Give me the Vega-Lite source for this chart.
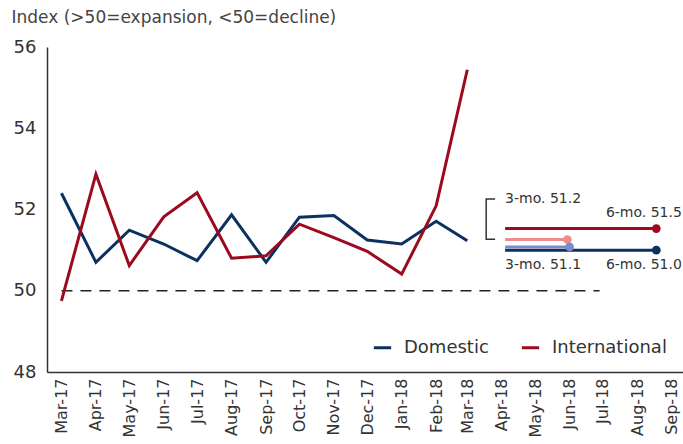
{
  "$schema": "https://vega.github.io/schema/vega-lite/v6.json",
  "width": 636,
  "height": 325,
  "autosize": "none",
  "padding": {"left": 47, "top": 47, "right": 0, "bottom": 72},
  "config": {
    "view": {"stroke": null},
    "font": "DejaVu Sans",
    "axis": {"domainColor": "#333333", "domainWidth": 1.5, "ticks": false, "grid": false, "labelColor": "#333333", "labelFont": "DejaVu Sans"}
  },
  "datasets": {
    "series": [
      {"month": "2017-03-01", "series": "Domestic", "value": 52.40},
      {"month": "2017-04-01", "series": "Domestic", "value": 50.70},
      {"month": "2017-05-01", "series": "Domestic", "value": 51.49},
      {"month": "2017-06-01", "series": "Domestic", "value": 51.15},
      {"month": "2017-07-01", "series": "Domestic", "value": 50.74},
      {"month": "2017-08-01", "series": "Domestic", "value": 51.87},
      {"month": "2017-09-01", "series": "Domestic", "value": 50.70},
      {"month": "2017-10-01", "series": "Domestic", "value": 51.81},
      {"month": "2017-11-01", "series": "Domestic", "value": 51.85},
      {"month": "2017-12-01", "series": "Domestic", "value": 51.25},
      {"month": "2018-01-01", "series": "Domestic", "value": 51.15},
      {"month": "2018-02-01", "series": "Domestic", "value": 51.71},
      {"month": "2018-03-01", "series": "Domestic", "value": 51.23},
      {"month": "2017-03-01", "series": "International", "value": 49.75},
      {"month": "2017-04-01", "series": "International", "value": 52.87},
      {"month": "2017-05-01", "series": "International", "value": 50.62},
      {"month": "2017-06-01", "series": "International", "value": 51.82},
      {"month": "2017-07-01", "series": "International", "value": 52.41},
      {"month": "2017-08-01", "series": "International", "value": 50.80},
      {"month": "2017-09-01", "series": "International", "value": 50.86},
      {"month": "2017-10-01", "series": "International", "value": 51.64},
      {"month": "2017-11-01", "series": "International", "value": 51.31},
      {"month": "2017-12-01", "series": "International", "value": 50.97},
      {"month": "2018-01-01", "series": "International", "value": 50.41},
      {"month": "2018-02-01", "series": "International", "value": 52.09},
      {"month": "2018-03-01", "series": "International", "value": 55.44}
    ],
    "baseline": [{"start": "2017-03-01", "end": "2018-06-28", "value": 50}],
    "averages": [
      {"avg": "International 6-mo", "start": "2018-04-04", "end": "2018-08-18", "value": 51.53},
      {"avg": "International 3-mo", "start": "2018-04-04", "end": "2018-05-30", "value": 51.26},
      {"avg": "Domestic 6-mo", "start": "2018-04-04", "end": "2018-08-18", "value": 51.0},
      {"avg": "Domestic 3-mo", "start": "2018-04-04", "end": "2018-06-01", "value": 51.08}
    ],
    "bracket": [
      {"order": 1, "date": "2018-03-26", "value": 52.26},
      {"order": 2, "date": "2018-03-18", "value": 52.26},
      {"order": 3, "date": "2018-03-18", "value": 51.27},
      {"order": 4, "date": "2018-03-26", "value": 51.27}
    ],
    "labelsLeft": [
      {"text": "3-mo. 51.2", "date": "2018-04-04", "value": 52.26},
      {"text": "3-mo. 51.1", "date": "2018-04-04", "value": 50.63}
    ],
    "labelsRight": [
      {"text": "6-mo. 51.5", "date": "2018-09-10", "value": 51.91},
      {"text": "6-mo. 51.0", "date": "2018-09-10", "value": 50.63}
    ]
  },
  "layer": [
    {
      "data": {"name": "baseline"},
      "mark": {"type": "rule", "color": "#222222", "strokeWidth": 1.3, "strokeDash": [11, 8]},
      "encoding": {
        "x": {"field": "start", "type": "temporal"},
        "x2": {"field": "end"},
        "y": {"field": "value", "type": "quantitative"}
      }
    },
    {
      "data": {"name": "series"},
      "mark": {"type": "line", "strokeWidth": 3},
      "encoding": {
        "x": {
          "field": "month", "type": "temporal",
          "scale": {"domain": ["2017-02-16", "2018-09-11"]},
          "axis": {"title": null, "format": "%b-%y", "labelAngle": -90, "labelAlign": "right", "labelBaseline": "middle", "labelFontSize": 16, "labelPadding": 6, "tickCount": {"interval": "month", "step": 1}, "labelOverlap": false, "labelFlush": false}
        },
        "y": {
          "field": "value", "type": "quantitative",
          "scale": {"domain": [48, 56], "nice": false, "zero": false},
          "axis": {"values": [48, 50, 52, 54, 56], "labelFontSize": 18, "labelPadding": 11, "title": "Index (>50=expansion, <50=decline)", "titleAngle": 0, "titleAlign": "left", "titleBaseline": "middle", "titleX": -36, "titleY": -30, "titleFontSize": 17, "titleFontWeight": "normal", "titleColor": "#444444"}
        },
        "color": {
          "field": "series", "type": "nominal",
          "scale": {"domain": ["Domestic", "International"], "range": ["#0c3161", "#9b0a1e"]},
          "legend": {"title": null, "orient": "none", "legendX": 325, "legendY": 290, "direction": "horizontal", "symbolType": "stroke", "symbolStrokeWidth": 3, "symbolSize": 300, "labelFontSize": 18, "labelColor": "#333333", "columnPadding": 26, "labelOffset": 11}
        }
      }
    },
    {
      "data": {"name": "bracket"},
      "mark": {"type": "line", "color": "#333333", "strokeWidth": 1.5},
      "encoding": {
        "x": {"field": "date", "type": "temporal"},
        "y": {"field": "value", "type": "quantitative"},
        "order": {"field": "order", "type": "quantitative"}
      }
    },
    {
      "data": {"name": "averages"},
      "mark": {"type": "rule", "strokeWidth": 3},
      "encoding": {
        "x": {"field": "start", "type": "temporal"},
        "x2": {"field": "end"},
        "y": {"field": "value", "type": "quantitative"},
        "color": {
          "field": "avg", "type": "nominal",
          "scale": {"domain": ["International 6-mo", "International 3-mo", "Domestic 6-mo", "Domestic 3-mo"], "range": ["#9b0a1e", "#f08a8c", "#0c3161", "#7a8cc8"]},
          "legend": null
        }
      }
    },
    {
      "data": {"name": "averages"},
      "mark": {"type": "point", "filled": true, "opacity": 1, "size": 75},
      "encoding": {
        "x": {"field": "end", "type": "temporal"},
        "y": {"field": "value", "type": "quantitative"},
        "color": {
          "field": "avg", "type": "nominal",
          "scale": {"domain": ["International 6-mo", "International 3-mo", "Domestic 6-mo", "Domestic 3-mo"], "range": ["#9b0a1e", "#f08a8c", "#0c3161", "#7a8cc8"]},
          "legend": null
        }
      }
    },
    {
      "data": {"name": "labelsLeft"},
      "mark": {"type": "text", "align": "left", "baseline": "middle", "fontSize": 14, "color": "#333333"},
      "encoding": {
        "x": {"field": "date", "type": "temporal"},
        "y": {"field": "value", "type": "quantitative"},
        "text": {"field": "text"}
      }
    },
    {
      "data": {"name": "labelsRight"},
      "mark": {"type": "text", "align": "right", "baseline": "middle", "fontSize": 14, "color": "#333333"},
      "encoding": {
        "x": {"field": "date", "type": "temporal"},
        "y": {"field": "value", "type": "quantitative"},
        "text": {"field": "text"}
      }
    }
  ],
  "resolve": {"scale": {"color": "independent"}}
}
